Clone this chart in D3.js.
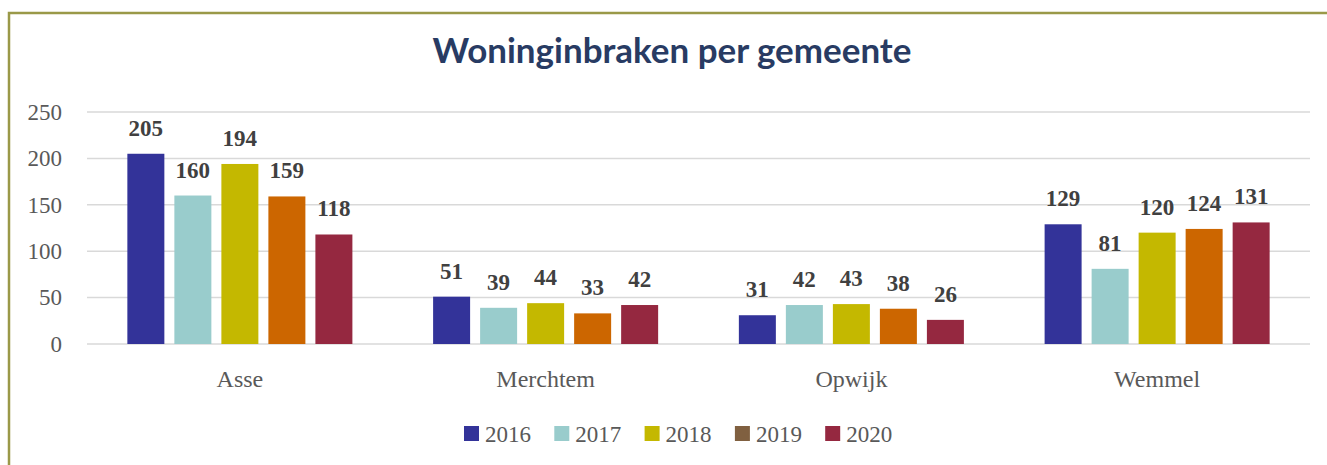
<!DOCTYPE html>
<html>
<head>
<meta charset="utf-8">
<script src="https://cdn.jsdelivr.net/npm/d3@7"></script>
<style>
  body { margin: 0; background: #fff; }
  svg { display: block; }
</style>
</head>
<body>
<div id="chart"></div>
<script>
// data
const gemeenten = ["Asse", "Merchtem", "Opwijk", "Wemmel"];
const jaren = ["2016", "2017", "2018", "2019", "2020"];
const v2016 = [205, 51, 31, 129];
const v2017 = [160, 39, 42, 81];
const v2018 = [194, 44, 43, 120];
const v2019 = [159, 33, 38, 124];
const v2020 = [118, 42, 26, 131];
const yTicks = [0, 50, 100, 150, 200, 250];

const series = [v2016, v2017, v2018, v2019, v2020];
const barColors = ["#333399", "#99CCCC", "#C4B800", "#CC6600", "#952840"];
// legend shows 2019 in brown, as in the original
const legendColors = ["#333399", "#99CCCC", "#C4B800", "#806040", "#952840"];

const W = 1327, H = 465;
const margin = { top: 112, right: 17, bottom: 121, left: 87 };
const width = W - margin.left - margin.right;
const height = H - margin.top - margin.bottom;

const svg = d3.select("#chart").append("svg")
  .attr("width", W)
  .attr("height", H);

// frame (only top and left edges visible)
svg.append("path")
  .attr("d", `M9,${H} V13 H${W}`)
  .attr("fill", "none")
  .attr("stroke", "#9A9948")
  .attr("stroke-width", 2.5);

// title
const title = svg.append("text")
  .attr("x", 672)
  .attr("y", 63)
  .attr("text-anchor", "middle")
  .attr("fill", "#283B63")
  .style("font-family", "Lato, 'Open Sans', sans-serif")
  .style("font-weight", "bold")
  .style("font-size", "28px")
  .text("Woninginbraken per gemeente");
const tl = title.node().getComputedTextLength();
title.style("font-size", (28 * 479 / tl) + "px");

const g = svg.append("g")
  .attr("transform", `translate(${margin.left},${margin.top})`);

const x0 = d3.scaleBand().domain(gemeenten).range([0, width])
  .paddingInner(0.264).paddingOuter(0.132);
const x1 = d3.scaleBand().domain(jaren).range([0, x0.bandwidth()])
  .paddingInner(0.213).paddingOuter(0);
const y = d3.scaleLinear().domain([0, 250]).range([height, 0]);

const serif = "'Liberation Serif', 'DejaVu Serif', serif";

// gridlines
g.append("g")
  .selectAll("line")
  .data(yTicks)
  .join("line")
  .attr("x1", 0)
  .attr("x2", width)
  .attr("y1", d => y(d))
  .attr("y2", d => y(d))
  .attr("stroke", "#D9D9D9")
  .attr("stroke-width", 1.5);

// y axis labels
const yAxis = g.append("g")
  .call(d3.axisLeft(y).tickValues(yTicks).tickSize(0).tickPadding(25));
yAxis.select(".domain").remove();
yAxis.selectAll("text")
  .attr("fill", "#595959")
  .style("font-family", serif)
  .style("font-size", "23px");

// x axis labels
const xAxis = g.append("g")
  .attr("transform", `translate(0,${height})`)
  .call(d3.axisBottom(x0).tickSize(0).tickPadding(26));
xAxis.select(".domain").remove();
xAxis.selectAll("text")
  .attr("fill", "#595959")
  .style("font-family", serif)
  .style("font-size", "24px");

// bars
const groups = g.append("g")
  .selectAll("g")
  .data(gemeenten)
  .join("g")
  .attr("transform", d => `translate(${x0(d)},0)`);

const cells = groups.selectAll("g")
  .data((d, i) => jaren.map((j, k) => ({ jaar: j, k: k, value: series[k][i] })))
  .join("g");

cells.append("rect")
  .attr("x", d => x1(d.jaar))
  .attr("y", d => y(d.value))
  .attr("width", x1.bandwidth())
  .attr("height", d => y(0) - y(d.value))
  .attr("fill", d => barColors[d.k]);

cells.append("text")
  .attr("x", d => x1(d.jaar) + x1.bandwidth() / 2)
  .attr("y", d => y(d.value) - 18)
  .attr("text-anchor", "middle")
  .attr("fill", "#404040")
  .style("font-family", serif)
  .style("font-weight", "bold")
  .style("font-size", "23px")
  .text(d => d.value);

// legend
const legend = svg.append("g")
  .selectAll("g")
  .data(jaren)
  .join("g")
  .attr("transform", (d, i) => `translate(${464 + i * 90.3},426)`);

legend.append("rect")
  .attr("width", 15)
  .attr("height", 15)
  .attr("fill", (d, i) => legendColors[i]);

legend.append("text")
  .attr("x", 21)
  .attr("y", 15.5)
  .attr("fill", "#595959")
  .style("font-family", serif)
  .style("font-size", "23px")
  .text(d => d);
</script>
</body>
</html>
